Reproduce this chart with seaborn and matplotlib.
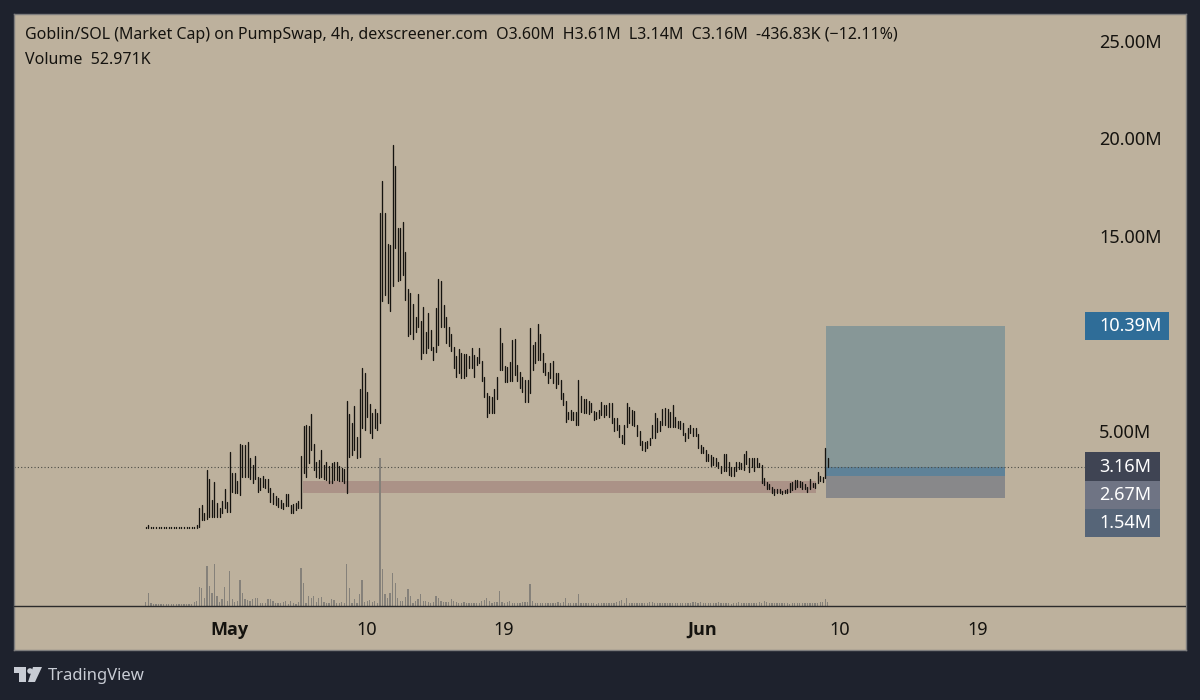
import numpy as np
import pandas as pd
import seaborn as sns
import matplotlib.pyplot as plt
from matplotlib.patches import Rectangle, Polygon, Circle

# 4h bars, market cap in millions
highs = [
    0.06, 0.17, 0.06, 0.06, 0.06, 0.06, 0.06, 0.06, 0.06, 0.06,
    0.06, 0.06, 0.06, 0.06, 0.06, 0.06, 0.06, 0.06, 0.06, 0.06,
    0.18, 1.04, 1.18, 0.78, 3.00, 2.53, 1.47, 2.39, 1.29, 1.04,
    1.43, 2.03, 1.38, 3.94, 2.83, 2.87, 2.41, 4.34, 4.29, 4.29,
    4.42, 3.60, 3.26, 3.72, 2.66, 2.58, 2.70, 2.53, 2.53, 2.06,
    1.81, 1.67, 1.55, 1.47, 1.29, 1.77, 1.77, 1.21, 1.26, 1.29,
    1.43, 3.72, 5.23, 5.31, 5.23, 5.86, 4.34, 3.43, 3.52, 4.03,
    3.26, 3.43, 3.18, 3.35, 3.43, 3.43, 3.18, 3.09, 3.04, 6.54,
    5.88, 5.43, 6.29, 4.71, 7.16, 8.22, 7.96, 7.02, 6.39, 5.91,
    6.12, 5.94, 16.17, 17.84, 16.17, 14.59, 14.54, 19.67, 18.61, 15.43,
    15.43, 15.74, 14.17, 12.27, 12.06, 11.52, 10.83, 12.03, 10.66, 11.35,
    10.10, 11.07, 10.18, 9.33, 11.29, 12.78, 12.71, 11.47, 10.83, 10.35,
    9.97, 9.29, 8.84, 9.18, 8.98, 8.94, 8.94, 8.84, 9.23, 8.89,
    8.81, 9.23, 8.58, 7.78, 6.93, 6.79, 6.72, 7.13, 7.78, 10.26,
    9.49, 8.33, 8.29, 8.55, 9.66, 9.71, 8.38, 8.04, 7.78, 7.61,
    7.61, 10.29, 9.41, 9.58, 10.48, 9.97, 8.98, 8.50, 8.04, 8.46,
    8.60, 7.95, 7.95, 7.61, 6.93, 6.55, 5.99, 6.07, 5.99, 5.99,
    7.61, 6.79, 6.62, 6.62, 6.55, 6.45, 6.04, 5.99, 6.07, 6.50,
    6.33, 6.33, 6.41, 6.41, 5.64, 5.64, 5.30, 4.79, 5.30, 6.45,
    6.24, 6.07, 6.04, 5.30, 5.01, 4.50, 4.45, 4.50, 4.62, 5.30,
    5.90, 5.64, 5.52, 6.11, 6.16, 6.11, 5.99, 6.33, 5.73, 5.52,
    5.52, 5.39, 4.88, 5.13, 5.30, 5.13, 5.13, 4.84, 4.28, 4.19,
    4.02, 3.82, 3.76, 3.68, 3.59, 3.42, 3.20, 3.82, 3.82, 3.42,
    3.17, 3.17, 3.42, 3.42, 3.37, 3.82, 3.99, 3.59, 3.64, 3.59,
    3.64, 3.34, 3.25, 2.57, 2.36, 2.28, 2.11, 2.05, 2.00, 2.00,
    1.92, 1.97, 2.00, 2.35, 2.40, 2.48, 2.48, 2.45, 2.36, 2.28,
    2.14, 2.52, 2.35, 2.31, 2.91, 2.69, 2.65, 4.11, 3.61,
]
lows = [
    0.02, 0.02, 0.02, 0.02, 0.02, 0.02, 0.02, 0.02, 0.02, 0.02,
    0.02, 0.02, 0.02, 0.02, 0.02, 0.02, 0.02, 0.02, 0.02, 0.02,
    0.05, 0.10, 0.41, 0.41, 0.47, 0.61, 0.61, 0.61, 0.61, 0.61,
    0.78, 1.04, 0.87, 0.87, 1.89, 1.81, 1.81, 1.72, 2.66, 2.66,
    2.66, 2.53, 2.32, 2.53, 1.89, 1.98, 2.15, 2.06, 1.89, 1.38,
    1.26, 1.21, 1.12, 1.04, 1.00, 1.16, 1.16, 0.82, 0.82, 0.95,
    1.04, 1.07, 2.83, 2.63, 3.35, 4.03, 3.00, 2.66, 2.58, 2.66,
    2.53, 2.49, 2.35, 2.32, 2.49, 2.49, 2.46, 2.46, 2.32, 1.81,
    3.69, 3.77, 4.03, 3.60, 3.69, 5.14, 5.06, 5.74, 4.92, 4.63,
    5.14, 5.06, 5.40, 11.64, 11.98, 11.55, 11.16, 12.41, 14.37, 12.71,
    12.75, 13.00, 11.72, 9.89, 9.98, 9.72, 10.06, 10.35, 8.70, 9.02,
    9.02, 9.24, 9.16, 8.65, 9.07, 9.41, 10.35, 10.35, 9.50, 9.36,
    9.11, 8.21, 7.78, 7.99, 7.70, 7.70, 7.82, 8.21, 8.21, 7.78,
    8.38, 8.46, 7.58, 6.72, 5.73, 5.90, 5.90, 5.90, 6.62, 8.12,
    8.12, 7.52, 7.52, 7.58, 7.58, 7.87, 7.58, 7.18, 7.01, 6.50,
    6.50, 6.93, 8.12, 8.46, 8.64, 8.64, 8.04, 7.87, 7.44, 7.70,
    7.44, 7.18, 7.41, 6.62, 6.33, 5.44, 5.59, 5.56, 5.56, 5.30,
    5.30, 5.99, 5.94, 5.90, 5.87, 5.99, 5.56, 5.59, 5.64, 5.82,
    5.73, 5.82, 5.73, 5.39, 5.01, 5.05, 4.67, 4.36, 4.33, 5.22,
    5.39, 5.30, 5.25, 4.74, 4.28, 4.05, 3.99, 4.11, 4.28, 4.62,
    4.62, 4.96, 5.01, 5.30, 5.30, 5.22, 5.18, 5.22, 5.18, 5.13,
    5.08, 4.79, 4.50, 4.62, 4.88, 4.74, 4.74, 4.11, 3.85, 3.85,
    3.47, 3.47, 3.20, 3.25, 3.20, 3.08, 2.86, 2.96, 2.96, 2.74,
    2.70, 2.70, 2.96, 3.03, 3.03, 2.99, 3.30, 2.91, 3.13, 2.94,
    3.17, 3.13, 2.31, 2.23, 2.05, 2.00, 1.83, 1.71, 1.80, 1.83,
    1.76, 1.83, 1.83, 1.88, 1.97, 2.05, 2.14, 2.14, 2.05, 2.00,
    1.88, 2.05, 2.14, 2.09, 2.31, 2.45, 2.40, 2.57, 3.14,
]
# volume in thousands
volumes = [
    52, 173, 35, 22, 22, 22, 22, 22, 22, 22,
    22, 22, 22, 22, 22, 22, 22, 22, 22, 52,
    65, 251, 238, 108, 520, 260, 173, 550, 130, 52,
    87, 247, 65, 455, 87, 52, 65, 338, 173, 87,
    78, 65, 95, 108, 108, 35, 43, 35, 87, 87,
    61, 43, 35, 35, 52, 65, 26, 65, 35, 30,
    52, 489, 303, 35, 130, 108, 130, 52, 108, 121,
    52, 43, 35, 87, 78, 35, 35, 52, 35, 550,
    238, 43, 87, 35, 152, 338, 52, 65, 78, 52,
    65, 35, 1927, 476, 152, 108, 173, 433, 303, 108,
    65, 65, 121, 217, 130, 43, 65, 87, 152, 65,
    65, 52, 43, 52, 130, 108, 65, 52, 52, 52,
    87, 65, 52, 43, 43, 52, 43, 43, 35, 43,
    43, 43, 65, 78, 108, 65, 43, 52, 52, 195,
    52, 35, 52, 65, 43, 43, 35, 43, 52, 52,
    52, 282, 65, 35, 35, 43, 43, 43, 43, 35,
    43, 35, 52, 43, 52, 108, 35, 35, 43, 43,
    152, 43, 43, 35, 35, 35, 43, 26, 35, 35,
    35, 35, 43, 43, 35, 52, 65, 78, 43, 108,
    43, 35, 43, 35, 43, 35, 43, 43, 52, 52,
    35, 43, 43, 35, 35, 43, 43, 35, 43, 35,
    43, 35, 35, 43, 35, 52, 52, 43, 52, 43,
    35, 35, 35, 43, 43, 52, 43, 43, 43, 35,
    26, 35, 43, 52, 43, 35, 43, 43, 35, 43,
    43, 52, 43, 65, 52, 43, 43, 43, 35, 35,
    35, 35, 35, 26, 35, 35, 35, 35, 35, 43,
    43, 35, 43, 43, 43, 52, 52, 87, 52.97,
]

# 10.00M is hidden by the target label on the real chart
price_ticks = [5, 15, 20, 25]
price_labels = ['5.00M', '15.00M', '20.00M', '25.00M']
date_ticks = [0, 9, 18, 31, 40, 49]  # days since May 1
date_labels = ['May', '10', '19', 'Jun', '10', '19']

last_close = 3.16
entry = 2.67
target = 10.39
stop = 1.54
position_days = [39.08, 50.82]
zone_days = [4.87, 38.44]
zone_low = 1.84
zone_high = 2.44

header = ('Goblin/SOL (Market Cap) on PumpSwap, 4h, dexscreener.com  O3.60M  H3.61M  '
          'L3.14M  C3.16M  -436.83K (\u221212.11%)')
volume_text = 'Volume  52.971K'

PANE = '#bdb19d'
DARK = '#1e222d'
INK = '#15130f'
W, H = 1200, 700
XMIN, XMAX = -14.08, 62.67


def fx(px):
    return px / W


def fy(py):
    return 1 - py / H


sns.set_theme(style='ticks')
plt.rcParams['font.family'] = ['Noto Sans', 'DejaVu Sans']

day = -5.45 + np.arange(len(highs)) / 6
bars = pd.DataFrame({'bar': np.arange(len(highs)), 'day': day, 'high': highs, 'low': lows, 'volume': volumes})
candles = bars.melt(id_vars=['bar', 'day'], value_vars=['high', 'low'], value_name='price')

fig = plt.figure(figsize=(12, 7), dpi=100, facecolor=DARK)
ax = fig.add_axes([fx(14), fy(650), fx(1186 - 14), (650 - 14) / H], facecolor=PANE)
ax_vol = ax.twinx()

# zones go under the bars
ax.fill_between(zone_days, zone_low, zone_high, color='#ab9287', lw=0, zorder=1)
ax.fill_between(position_days, last_close, target, color='#879797', lw=0, zorder=1)
ax.fill_between(position_days, entry, last_close, color='#5f8298', lw=0, zorder=1)
ax.fill_between(position_days, stop, entry, color='#88888a', lw=0, zorder=1)
# price line stops where the axis labels start
ax.hlines(last_close, XMIN, 56.06, color='#4a4a44', lw=0.8, ls=(0, (1, 2)), zorder=2)

sns.lineplot(data=candles, x='day', y='price', units='bar', estimator=None, sort=False,
             color=INK, lw=0.95, legend=False, ax=ax, zorder=3)
sns.barplot(data=bars, x='day', y='volume', native_scale=True, color='#85817a', saturation=1,
            width=0.5, linewidth=0, edgecolor='none', ax=ax_vol, zorder=2)

ax.set_xlim(XMIN, XMAX)
ax.set_ylim(-6.23, 26.38)
ax_vol.set_xlim(XMIN, XMAX)
ax_vol.set_ylim(-572, 7696)
ax_vol.axhline(0, color='#2b2b2b', lw=1)
ax_vol.set_axis_off()

ax.set_xlabel('')
ax.set_ylabel('')
ax.set_xticks(date_ticks)
ax.set_xticklabels(date_labels, fontsize=13, color=INK)
ax.tick_params(axis='x', length=0, pad=-21)
for lab in ax.get_xticklabels():
    if lab.get_text() in ('May', 'Jun'):
        lab.set_family(['Open Sans', 'DejaVu Sans'])
        lab.set_fontweight('bold')

ax.yaxis.tick_right()
ax.set_yticks(price_ticks)
ax.set_yticklabels(price_labels, fontsize=13, color=INK, ha='left')
ax.tick_params(axis='y', length=0, pad=-62.6)

for spine in ax.spines.values():
    spine.set_visible(True)
    spine.set_color('#7d7d7d')
    spine.set_linewidth(1)

fig.text(fx(25), fy(35), header, fontsize=11.5, color=INK, va='center', ha='left')
fig.text(fx(25), fy(60), volume_text, fontsize=11.5, color=INK, va='center', ha='left')

# price labels on the right, stacked like the TradingView axis
for txt, top, bottom, right, col in [('10.39M', 312, 340, 1169, '#2f6d98'),
                                     ('3.16M', 452, 481, 1160, '#3f4453'),
                                     ('2.67M', 481, 509, 1160, '#6f7484'),
                                     ('1.54M', 509, 537, 1160, '#566578')]:
    fig.add_artist(Rectangle((fx(1085), fy(bottom)), fx(right - 1085), (bottom - top) / H,
                             transform=fig.transFigure, color=col, lw=0))
    fig.text(fx(1099), fy((top + bottom) / 2), txt, color='white', fontsize=13, fontweight='medium',
             ha='left', va='center')

# logo and footer
logo = '#c8ccd4'
fig.add_artist(Polygon([(fx(14), fy(667)), (fx(26), fy(667)), (fx(26), fy(682)), (fx(19), fy(682)),
                        (fx(19), fy(673)), (fx(14), fy(673))], transform=fig.transFigure, color=logo, lw=0))
fig.add_artist(Polygon([(fx(33), fy(667)), (fx(42), fy(667)), (fx(35), fy(682)), (fx(28), fy(682))],
                       transform=fig.transFigure, color=logo, lw=0))
ax_logo = fig.add_axes([0, 0, 1, 1], facecolor='none')
ax_logo.set_axis_off()
ax_logo.set_xlim(0, W)
ax_logo.set_ylim(H, 0)
ax_logo.add_patch(Circle((30, 671), 2.8, color=logo, lw=0))
fig.text(fx(48), fy(676), 'TradingView', color=logo, fontsize=12, ha='left', va='center')

fig.savefig('out.png', dpi=100, facecolor=DARK)
